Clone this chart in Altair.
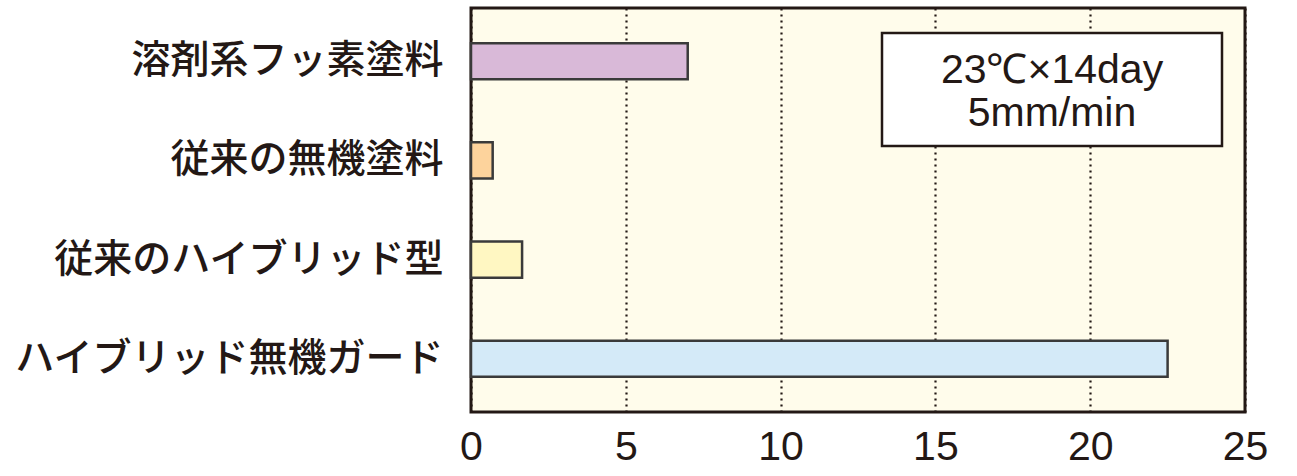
import altair as alt
import pandas as pd

categories = ["溶剤系フッ素塗料", "従来の無機塗料", "従来のハイブリッド型", "ハイブリッド無機ガード"]
values = [7.0, 0.7, 1.65, 22.5]
colors = ["#D9B9D8", "#FDD39C", "#FFF7C2", "#D4EAF8"]
x_ticks = [0, 5, 10, 15, 20, 25]
note_lines = ["23℃×14day", "5mm/min"]

df = pd.DataFrame({"cat": categories, "val": values})

W, H = 774, 404
DARK = "#231815"

bars = alt.Chart(df).mark_bar(stroke="#3a3a3a", strokeWidth=2.5).encode(
    x=alt.X("val:Q",
            scale=alt.Scale(domain=[0, 25], nice=False, zero=True),
            axis=alt.Axis(values=x_ticks, title=None, ticks=False, domain=False,
                          labelFont="Liberation Sans", labelFontSize=41,
                          labelColor=DARK, labelPadding=15,
                          grid=True, gridColor=DARK, gridDash=[2, 4],
                          gridWidth=2.2, labelFlush=False)),
    y=alt.Y("cat:N", sort=categories,
            scale=alt.Scale(paddingInner=0.637, paddingOuter=0.354),
            axis=alt.Axis(title=None, ticks=False, domain=False,
                          labelFont="Noto Sans CJK JP", labelFontSize=39,
                          labelFontWeight=500,
                          labelColor=DARK, labelPadding=28, labelLimit=600)),
    color=alt.Color("cat:N", scale=alt.Scale(domain=categories, range=colors), legend=None),
)

box = alt.Chart(pd.DataFrame({"a": [0]})).mark_rect(
    fill="white", stroke=DARK, strokeWidth=2.5
).encode(
    x=alt.value(411), x2=alt.value(751), y=alt.value(25), y2=alt.value(138)
)

line1 = alt.Chart(pd.DataFrame({"t": [note_lines[0]]})).mark_text(
    font="Liberation Sans", fontSize=41, color=DARK, align="center", baseline="alphabetic"
).encode(text="t:N", x=alt.value(581), y=alt.value(75))

line2 = alt.Chart(pd.DataFrame({"t": [note_lines[1]]})).mark_text(
    font="Liberation Sans", fontSize=41, color=DARK, align="center", baseline="alphabetic"
).encode(text="t:N", x=alt.value(581), y=alt.value(118))

chart = alt.layer(bars, box, line1, line2).properties(
    width=W, height=H,
    autosize=alt.AutoSizeParams(type="none"),
    padding={"left": 471, "top": 8, "right": 52, "bottom": 64},
    background="white",
).configure_view(
    fill="#FFFCEB", stroke=DARK, strokeWidth=3
)

chart.save("out.html", embed_options={"renderer": "svg", "actions": False})
